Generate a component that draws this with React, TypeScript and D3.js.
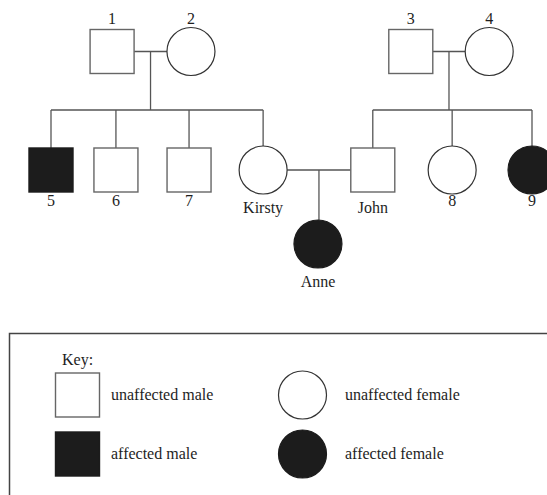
import React, { useEffect, useRef } from 'react';
import * as d3 from 'd3';

// pedigree data: pos is layout order along the row (0..100), gen is generation
const people = [
  { id: 'p1', label: '1', sex: 'M', affected: false, gen: 0, pos: 12.7 },
  { id: 'p2', label: '2', sex: 'F', affected: false, gen: 0, pos: 29.1 },
  { id: 'p3', label: '3', sex: 'M', affected: false, gen: 0, pos: 74.8 },
  { id: 'p4', label: '4', sex: 'F', affected: false, gen: 0, pos: 91.1 },
  { id: 'p5', label: '5', sex: 'M', affected: true, gen: 1, pos: 0 },
  { id: 'p6', label: '6', sex: 'M', affected: false, gen: 1, pos: 13.5 },
  { id: 'p7', label: '7', sex: 'M', affected: false, gen: 1, pos: 28.7 },
  { id: 'kirsty', label: 'Kirsty', sex: 'F', affected: false, gen: 1, pos: 44.1 },
  { id: 'john', label: 'John', sex: 'M', affected: false, gen: 1, pos: 66.9 },
  { id: 'p8', label: '8', sex: 'F', affected: false, gen: 1, pos: 83.4 },
  { id: 'p9', label: '9', sex: 'F', affected: true, gen: 1, pos: 100 },
  { id: 'anne', label: 'Anne', sex: 'F', affected: true, gen: 2, pos: 55.5 },
];

const unions = [
  { a: 'p1', b: 'p2', children: ['p5', 'p6', 'p7', 'kirsty'] },
  { a: 'p3', b: 'p4', children: ['john', 'p8', 'p9'] },
  { a: 'kirsty', b: 'john', children: ['anne'] },
];

const keyItems = [
  { sex: 'M', affected: false, text: 'unaffected male', col: 0, row: 0 },
  { sex: 'M', affected: true, text: 'affected male', col: 0, row: 1 },
  { sex: 'F', affected: false, text: 'unaffected female', col: 1, row: 0 },
  { sex: 'F', affected: true, text: 'affected female', col: 1, row: 1 },
];

const W = 547;
const H = 495;

const App: React.FC = () => {
  const svgRef = useRef<SVGSVGElement>(null);

  useEffect(() => {
    if (!svgRef.current) return;
    const svg = d3.select(svgRef.current);
    svg.selectAll('*').remove();

    const font = '"Liberation Serif", serif';
    const ink = '#1e1e1e';
    const line = '#555';
    const half = 22; // square half-side
    const r = 24;
    const fs = 16;

    const x = d3.scaleLinear().domain([0, 100]).range([51, 532]);
    const y = d3.scaleOrdinal<number, number>().domain([0, 1, 2]).range([51.5, 170, 244]);

    const byId = new Map(people.map(p => [p.id, p]));
    const px = (id: string) => x(byId.get(id)!.pos);
    const py = (id: string) => y(byId.get(id)!.gen);
    const extent = (id: string) => (byId.get(id)!.sex === 'M' ? half : r);

    const g = svg.append('g');

    // connecting lines
    unions.forEach(u => {
      const ax = px(u.a), bx = px(u.b), uy = py(u.a);
      const left = Math.min(ax, bx), right = Math.max(ax, bx);
      const la = ax < bx ? u.a : u.b;
      const rb = ax < bx ? u.b : u.a;
      const x1 = left + extent(la);
      const x2 = right - extent(rb);
      g.append('line').attr('x1', x1).attr('x2', x2).attr('y1', uy).attr('y2', uy)
        .attr('stroke', line).attr('stroke-width', 1.3);
      const mx = (x1 + x2) / 2;
      const kids = u.children;
      if (kids.length === 1) {
        const k = kids[0];
        g.append('line').attr('x1', mx).attr('x2', mx).attr('y1', uy).attr('y2', py(k) - extent(k))
          .attr('stroke', line).attr('stroke-width', 1.3);
      } else {
        const sibY = 110;
        g.append('line').attr('x1', mx).attr('x2', mx).attr('y1', uy).attr('y2', sibY)
          .attr('stroke', line).attr('stroke-width', 1.3);
        const xs = kids.map(px);
        g.append('line').attr('x1', d3.min(xs)!).attr('x2', d3.max(xs)!).attr('y1', sibY).attr('y2', sibY)
          .attr('stroke', line).attr('stroke-width', 1.3);
        kids.forEach(k => {
          g.append('line').attr('x1', px(k)).attr('x2', px(k)).attr('y1', sibY).attr('y2', py(k) - extent(k))
            .attr('stroke', line).attr('stroke-width', 1.3);
        });
      }
    });

    const drawShape = (sel: d3.Selection<SVGGElement, unknown, null, undefined>,
      cx: number, cy: number, sex: string, affected: boolean) => {
      if (sex === 'M') {
        sel.append('rect').attr('x', cx - half).attr('y', cy - half)
          .attr('width', half * 2).attr('height', half * 2)
          .attr('fill', affected ? '#1c1c1c' : '#fff')
          .attr('stroke', affected ? '#1c1c1c' : '#666').attr('stroke-width', 1.4);
      } else {
        sel.append('circle').attr('cx', cx).attr('cy', cy).attr('r', r)
          .attr('fill', affected ? '#1c1c1c' : '#fff')
          .attr('stroke', affected ? '#1c1c1c' : '#333').attr('stroke-width', 1.2);
      }
    };

    people.forEach(p => {
      const cx = x(p.pos), cy = y(p.gen);
      drawShape(g, cx, cy, p.sex, p.affected);
      const isName = p.label.length > 1;
      const ty = p.gen === 0 ? cy - 28 : isName ? cy + 43 : cy + 36;
      g.append('text').attr('x', cx).attr('y', ty)
        .attr('text-anchor', 'middle')
        .attr('font-family', font).attr('font-size', fs).attr('fill', ink)
        .text(p.label);
    });

    // key box
    const k = svg.append('g');
    k.append('rect').attr('x', 9.5).attr('y', 333.5).attr('width', 600).attr('height', 200)
      .attr('fill', 'none').attr('stroke', '#444').attr('stroke-width', 1.5);
    k.append('text').attr('x', 62).attr('y', 365).attr('font-family', font)
      .attr('font-size', fs).attr('fill', ink).text('Key:');

    const colX = d3.scaleOrdinal<number, number>().domain([0, 1]).range([77.5, 302.5]);
    const rowY = d3.scaleOrdinal<number, number>().domain([0, 1]).range([395, 454]);
    const textX = d3.scaleOrdinal<number, number>().domain([0, 1]).range([111, 345]);
    keyItems.forEach(item => {
      const cx = colX(item.col), cy = rowY(item.row);
      drawShape(k, cx, cy, item.sex, item.affected);
      k.append('text').attr('x', textX(item.col)).attr('y', cy + 5)
        .attr('font-family', font).attr('font-size', fs).attr('fill', ink)
        .text(item.text);
    });
  }, []);

  return (
    <svg ref={svgRef} width={W} height={H} viewBox={`0 0 ${W} ${H}`}
      style={{ position: 'absolute', left: 0, top: 0, background: '#fff' }} />
  );
};

export default App;
